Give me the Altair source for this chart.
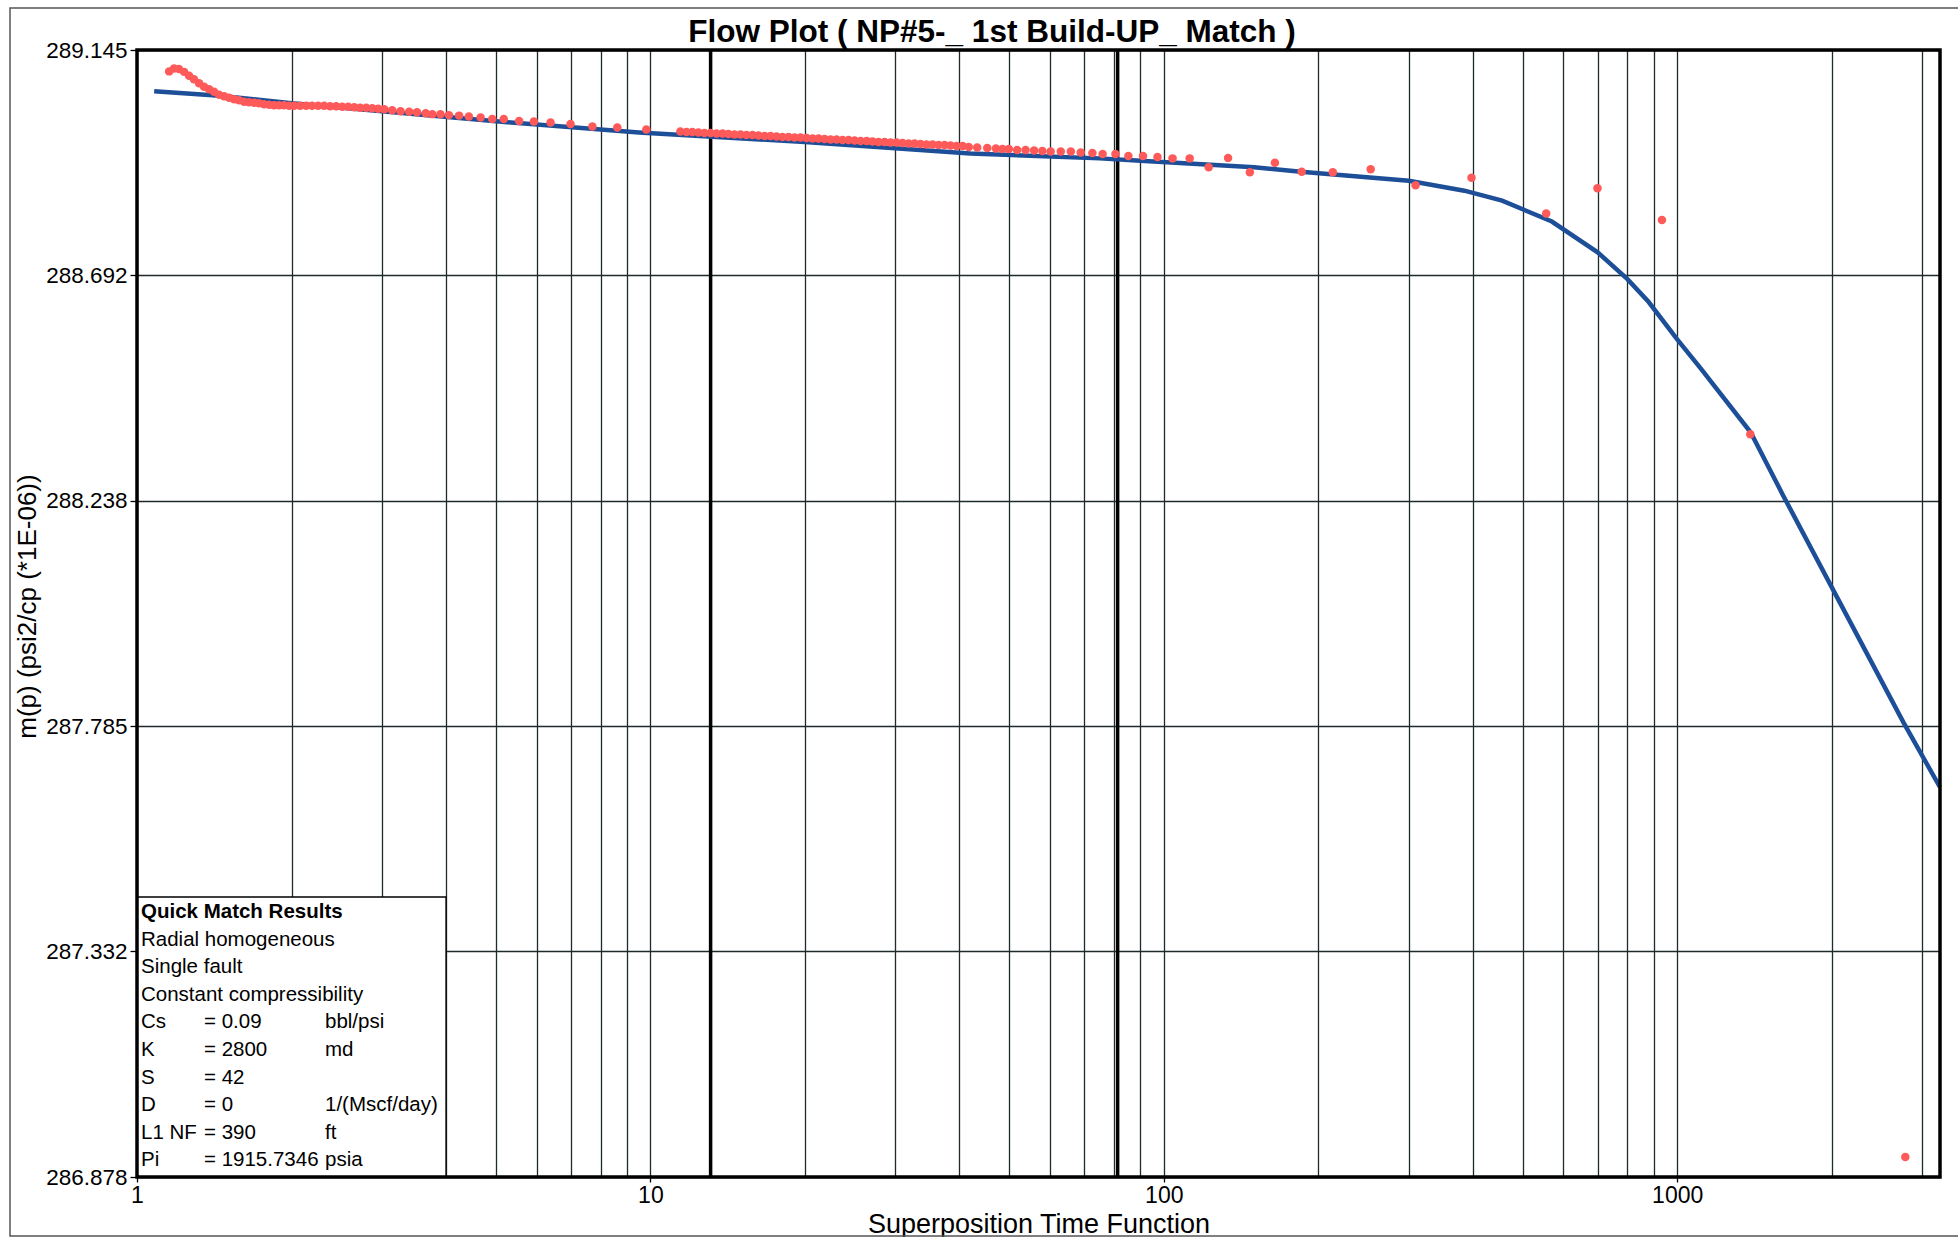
import altair as alt
import pandas as pd

# ---------------- text ----------------
TITLE = "Flow Plot ( NP#5-_ 1st Build-UP_ Match )"
X_TITLE = "Superposition Time Function"
Y_TITLE = "m(p) (psi2/cp (*1E-06))"

legend_title = "Quick Match Results"
legend_lines = ["Radial homogeneous", "Single fault", "Constant compressibility"]
param_names = ["Cs", "K", "S", "D", "L1 NF", "Pi"]
param_values = ["= 0.09", "= 2800", "= 42", "= 0", "= 390", "= 1915.7346"]
param_units = ["bbl/psi", "md", "", "1/(Mscf/day)", "ft", "psia"]

# ---------------- axes ----------------
x_domain = [1, 3250]
y_domain = [286.878, 289.145]
y_ticks = [286.878, 287.332, 287.785, 288.238, 288.692, 289.145]
x_grid = [1, 2, 3, 4, 5, 6, 7, 8, 9,
          10, 20, 30, 40, 50, 60, 70, 80, 90,
          100, 200, 300, 400, 500, 600, 700, 800, 900,
          1000, 2000, 3000]
x_labels = [1, 10, 100, 1000]
marker_t = [13.1, 81.3]

# ---------------- measured data (red dots) ----------------
red_t = [
    1.155, 1.181, 1.207, 1.235, 1.263, 1.291, 1.321, 1.351, 1.382, 1.413,
    1.445, 1.478, 1.511, 1.546, 1.580, 1.616, 1.653, 1.691, 1.729, 1.768,
    1.808, 1.849, 1.891, 1.934, 1.978, 2.023, 2.078, 2.135, 2.193, 2.253,
    2.315, 2.378, 2.443, 2.510, 2.578, 2.649, 2.721, 2.796, 2.872, 2.951,
    3.031,
    3.14, 3.26, 3.39, 3.51, 3.65, 3.76, 3.90, 4.05, 4.24, 4.43,
    4.67, 4.92, 5.18, 5.55, 5.93, 6.39, 6.99, 7.71, 8.62, 9.82,
    11.44, 11.76, 12.07, 12.40, 12.74, 13.09, 13.45, 13.82, 14.19, 14.58,
    14.98, 15.39, 15.81, 16.24, 16.69, 17.14, 17.61, 18.09, 18.58, 19.09,
    19.61, 20.15, 20.70, 21.26, 21.84, 22.44, 23.05, 23.68, 24.32, 24.99,
    25.67, 26.37, 27.08, 27.82, 28.58, 29.36, 30.16, 30.99, 31.83, 32.70,
    33.59, 34.51, 35.45, 36.42, 37.41, 38.43, 39.48, 40.56,
    41.7, 43.3, 45.3, 47.1, 48.5, 49.9, 51.8, 53.8, 55.9, 58.0,
    60.2, 63.0, 65.9, 68.9, 72.6, 76.0, 80.5, 85.3, 91.1, 97.2,
    104.0, 112.3, 122.3, 133.4, 147.1, 164.6, 185.6, 213.4, 252.9, 309.3,
    397.5, 555.7, 699.4, 933.9, 1388, 2782,
]
red_v = [
    289.102, 289.108, 289.107, 289.101, 289.093, 289.086, 289.078, 289.071, 289.066, 289.061,
    289.055, 289.052, 289.049, 289.046, 289.044, 289.041, 289.040, 289.039, 289.038, 289.036,
    289.035, 289.034, 289.034, 289.034, 289.033, 289.033, 289.033, 289.033, 289.033, 289.033,
    289.033, 289.032, 289.032, 289.031, 289.031, 289.030, 289.029, 289.029, 289.028, 289.027,
    289.026,
    289.024, 289.022, 289.021, 289.020, 289.018, 289.016, 289.016, 289.014, 289.013, 289.011,
    289.009, 289.006, 289.006, 289.002, 289.001, 288.999, 288.996, 288.991, 288.989, 288.985,
    288.981, 288.980, 288.980, 288.979, 288.978, 288.978, 288.977, 288.977, 288.976, 288.975,
    288.975, 288.974, 288.974, 288.973, 288.972, 288.972, 288.971, 288.970, 288.970, 288.969,
    288.969, 288.968, 288.967, 288.967, 288.966, 288.965, 288.965, 288.964, 288.964, 288.963,
    288.962, 288.962, 288.961, 288.960, 288.960, 288.959, 288.959, 288.958, 288.957, 288.957,
    288.956, 288.955, 288.955, 288.954, 288.954, 288.953, 288.952, 288.952,
    288.950, 288.949, 288.948, 288.947, 288.946, 288.946, 288.944, 288.944, 288.943, 288.942,
    288.941, 288.941, 288.941, 288.939, 288.938, 288.936, 288.936, 288.932, 288.932, 288.930,
    288.927, 288.927, 288.909, 288.928, 288.899, 288.918, 288.900, 288.899, 288.905, 288.873,
    288.888, 288.816, 288.867, 288.803, 288.372, 286.918,
]

# ---------------- model (blue line) ----------------
model_t = [1.08, 1.45, 2.0, 3.0, 5.2, 9.5, 20, 42, 75, 90, 150, 185, 300, 385,
           456, 570, 700, 800, 880, 1000, 1110, 1390, 1610, 2015, 2760, 3250]
model_v = [289.062, 289.053, 289.038, 289.022, 289.000, 288.979, 288.960, 288.937,
           288.927, 288.922, 288.909, 288.900, 288.882, 288.862, 288.842, 288.800,
           288.738, 288.684, 288.638, 288.563, 288.505, 288.376, 288.248, 288.058,
           287.792, 287.662]

# ---------------- layout ----------------
W, H = 1803, 1127
FONT = "Liberation Sans"
GRID = "#1f2b2b"

red_df = pd.DataFrame({"t": red_t, "v": red_v})
model_df = pd.DataFrame({"t": model_t, "v": model_v})
marker_df = pd.DataFrame({"t": marker_t})
one = pd.DataFrame({"a": [0]})

xs = alt.Scale(type="log", domain=x_domain, nice=False)
ys = alt.Scale(domain=y_domain, nice=False, zero=False)

label_test = "indexof([" + ",".join(str(v) for v in x_labels) + "], datum.value) >= 0"

x_axis = alt.Axis(
    values=x_grid, grid=True, gridColor=GRID, gridWidth=1.3, gridOpacity=1,
    domain=False, ticks=True, tickSize=5, tickColor="black", tickWidth=1.3,
    tickOpacity={"condition": {"test": label_test, "value": 1}, "value": 0},
    labelExpr=label_test + " ? format(datum.value, 'd') : ''",
    labelFlush=False, labelOverlap=False, labelFont=FONT, labelFontSize=23,
    labelColor="black", labelPadding=2,
    title=X_TITLE, titleFont=FONT, titleFontSize=27, titleFontWeight="normal",
    titleColor="black", titleBaseline="alphabetic", titleY=55,
)
y_axis = alt.Axis(
    values=y_ticks, format=".3f", grid=True, gridColor=GRID, gridWidth=1.3,
    gridOpacity=1, domain=False, ticks=True, tickSize=7, tickColor="black",
    tickWidth=1.3, labelFont=FONT, labelFontSize=22.5, labelColor="black",
    labelPadding=3, labelOverlap=False,
    title=Y_TITLE, titleFont=FONT, titleFontSize=26, titleFontWeight="normal",
    titleColor="black", titleAngle=270, titleBaseline="alphabetic",
    titleAlign="center", titleX=-102, titleY=556,
)

X = alt.X("t:Q", scale=xs, axis=x_axis)
Y = alt.Y("v:Q", scale=ys, axis=y_axis)

markers = alt.Chart(marker_df).mark_rule(color="black", strokeWidth=3.5).encode(x=X)
model = alt.Chart(model_df).mark_line(color="#1d4f99", strokeWidth=4.5).encode(x=X, y=Y)
points = alt.Chart(red_df).mark_circle(size=72, color="#ff5a5a", opacity=1).encode(x=X, y=Y)

data_layer = alt.layer(markers, model, points)

# legend box
legend_box = alt.Chart(one).mark_rect(fill="white", stroke="black", strokeWidth=1.3).encode(
    x=alt.value(0), x2=alt.value(309), y=alt.value(847), y2=alt.value(H)
)
rows = []
for i, s in enumerate(legend_lines):
    rows.append({"text": s, "col": 0, "row": i + 1})
for j, (n, v, u) in enumerate(zip(param_names, param_values, param_units)):
    r = len(legend_lines) + 1 + j
    rows.append({"text": n, "col": 0, "row": r})
    rows.append({"text": v, "col": 1, "row": r})
    if u:
        rows.append({"text": u, "col": 2, "row": r})
legend_df = pd.DataFrame(rows)

legend_text = alt.Chart(legend_df).mark_text(
    font=FONT, fontSize=20.5, align="left", baseline="middle", color="black"
).transform_calculate(
    px="[4, 67, 188][datum.col]", py="862 + 27.6 * datum.row"
).encode(
    x=alt.X("px:Q", scale=None, axis=None),
    y=alt.Y("py:Q", scale=None, axis=None),
    text="text:N",
)
legend_head = alt.Chart(pd.DataFrame({"text": [legend_title]})).mark_text(
    font=FONT, fontSize=20.5, fontWeight="bold", align="left", baseline="middle", color="black"
).encode(x=alt.value(4), y=alt.value(862), text="text:N")

title_mark = alt.Chart(pd.DataFrame({"text": [TITLE]})).mark_text(
    font=FONT, fontSize=31.5, fontWeight="bold", align="center", baseline="alphabetic",
    color="black"
).encode(x=alt.value(855), y=alt.value(-8), text="text:N")

plot_frame = alt.Chart(one).mark_rect(fillOpacity=0, stroke="black", strokeWidth=3.5).encode(
    x=alt.value(0), x2=alt.value(W), y=alt.value(0), y2=alt.value(H)
)
outer_frame = alt.Chart(one).mark_rect(fillOpacity=0, stroke="#555", strokeWidth=1.5).encode(
    x=alt.value(-127), x2=alt.value(W + 40), y=alt.value(-42), y2=alt.value(H + 59)
)

chart = alt.layer(
    data_layer, legend_box, legend_text, legend_head, title_mark, plot_frame, outer_frame
).resolve_scale(
    x="independent", y="independent"
).properties(
    width=W, height=H,
    autosize=alt.AutoSizeParams(type="none"),
    padding={"left": 137, "top": 50, "right": 18, "bottom": 60},
    background="white",
).configure_view(stroke=None)

chart.save("out.html", embed_options={"renderer": "svg", "actions": False})
